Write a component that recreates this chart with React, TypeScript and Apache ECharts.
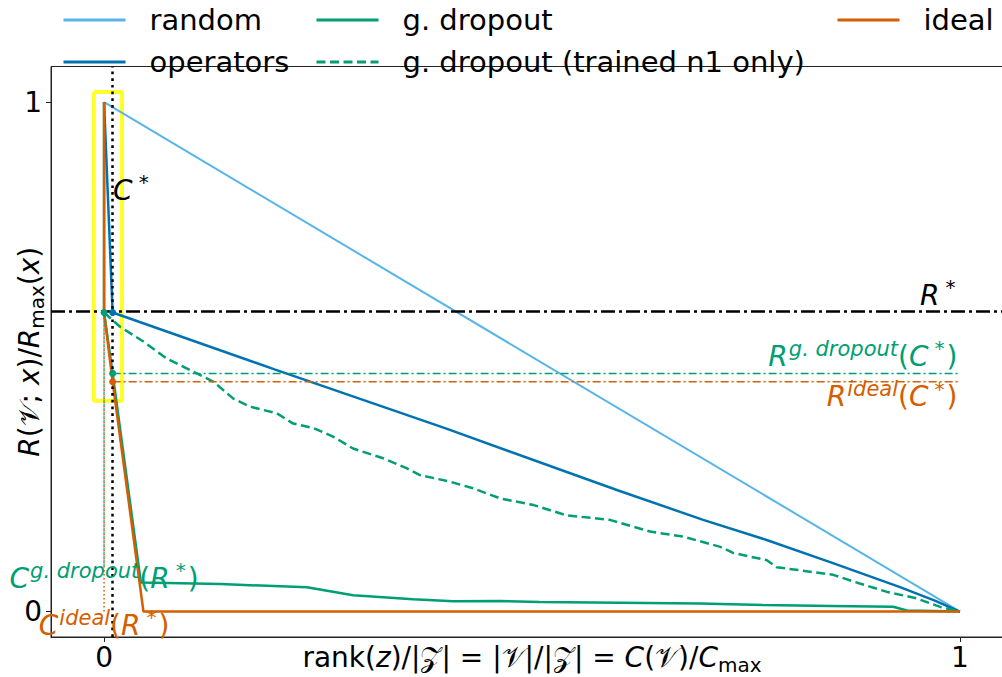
import React, { useEffect, useRef } from "react";
import * as echarts from "echarts";

// ---------- data ----------
const xTickValues = [0, 1];
const yTickValues = [0, 1];

const C_STAR = 0.01;
const R_STAR = 0.587;
const R_GD_AT_C = 0.4675;
const R_IDEAL_AT_C = 0.451;
const C_GD_AT_R = 0;
const C_IDEAL_AT_R = 0;

const randomX = [0, 1];
const randomY = [1, 0];

const operatorsX = [0, 0.01, 0.2, 0.4, 0.6, 0.7, 0.775, 0.85, 0.93, 0.97, 1];
const operatorsY = [1, 0.587, 0.475, 0.359, 0.238, 0.18, 0.14, 0.096, 0.048, 0.022, 0];

const gDropoutX = [0, 0, 0.01, 0.043, 0.136, 0.237, 0.291, 0.361, 0.408, 0.463, 0.509, 0.696, 0.77, 0.85, 0.922, 0.938, 1];
const gDropoutY = [1, 0.587, 0.4675, 0.057, 0.054, 0.0475, 0.032, 0.024, 0.02, 0.0206, 0.0186, 0.016, 0.0128, 0.011, 0.0094, 0.002, 0];

const gDropoutN1X = [0, 0.0187, 0.046, 0.073, 0.104, 0.128, 0.151, 0.171, 0.202, 0.221, 0.245, 0.268, 0.291, 0.326, 0.354, 0.369, 0.404, 0.431, 0.463, 0.502, 0.54, 0.591, 0.638, 0.677, 0.72, 0.735, 0.774, 0.786, 0.813, 0.852, 0.883, 0.914, 0.949, 0.977, 1];
const gDropoutN1Y = [0.587, 0.559, 0.53, 0.497, 0.471, 0.451, 0.418, 0.402, 0.389, 0.369, 0.36, 0.343, 0.32, 0.301, 0.281, 0.268, 0.255, 0.242, 0.222, 0.209, 0.189, 0.18, 0.157, 0.147, 0.127, 0.115, 0.101, 0.087, 0.081, 0.072, 0.055, 0.039, 0.026, 0.009, 0];

const idealX = [0, 0, 0.01, 0.046, 1];
const idealY = [1, 0.587, 0.451, 0.0, 0];

const zoomBoxX = [-0.012, 0.021, 0.021, -0.012, -0.012];
const zoomBoxY = [1.02, 1.02, 0.414, 0.414, 1.02];

const GD_DOTTED_LOW = 0.09;

// ---------- style ----------
const FONT = "DejaVu Sans";
const W = 1020;
const H = 677;
const C_RANDOM = "#56B4E9";
const C_OPS = "#0072B2";
const C_GD = "#009E73";
const C_IDEAL = "#D55E00";

const zip = (xs: number[], ys: number[]) => xs.map((x, i) => [x, ys[i]]);

const rich = (color: string, size = 28) => ({
  it: { fontStyle: "italic", fontSize: size, fontFamily: FONT, color, lineHeight: 36 },
  rm: { fontSize: size, fontFamily: FONT, color, lineHeight: 36 },
  cal: { fontSize: size, fontFamily: FONT, color, lineHeight: 36 },
  sup: { fontStyle: "italic", fontSize: 21, fontFamily: FONT, color, lineHeight: 21, verticalAlign: "top", padding: [0, 0, 0, 1] },
  star: { fontSize: 20, fontFamily: FONT, color, lineHeight: 20, verticalAlign: "top", padding: [0, 2, 0, 6] },
  sub: { fontSize: 20, fontFamily: FONT, color, lineHeight: 20, verticalAlign: "bottom" },
});

const annLabel = (text: string, color: string, position: string, distance = 0) => ({
  show: true,
  position,
  distance,
  color,
  opacity: 1,
  textBorderWidth: 0,
  formatter: text,
  rich: rich(color),
});

export default function App() {
  const ref = useRef<HTMLDivElement>(null);
  useEffect(() => {
    const chart = echarts.init(ref.current!, null, { renderer: "svg" });
    const axisLineStyle = { color: "#222", width: 1 };
    const legendBase = {
      orient: "vertical",
      top: 5,
      padding: 0,
      itemWidth: 62,
      itemHeight: 14,
      itemGap: 12,
      selectedMode: false,
      itemStyle: { opacity: 0 },
      lineStyle: { width: 3 },
      textStyle: { fontSize: 29, fontFamily: FONT, color: "#000", lineHeight: 30, padding: [0, 0, 0, 19] },
    };
    const option: any = {
      animation: false,
      backgroundColor: "#fff",
      grid: {
        left: 51,
        top: 66.5,
        right: W - 1013,
        bottom: 40,
        show: true,
        borderColor: "#222",
        borderWidth: 1,
        containLabel: false,
        outerBoundsMode: "none",
      },
      legend: [
        { ...legendBase, left: 62, data: ["random", "operators"] },
        { ...legendBase, left: 315, data: ["g. dropout", "g. dropout (trained n1 only)"] },
        { ...legendBase, left: 836, data: ["ideal"] },
      ],
      xAxis: {
        type: "value",
        min: -0.062,
        max: 1.062,
        axisLine: { show: true, onZero: false, lineStyle: axisLineStyle },
        axisTick: { show: true, customValues: xTickValues, length: 5, lineStyle: axisLineStyle },
        axisLabel: {
          customValues: xTickValues,
          fontSize: 28,
          fontFamily: FONT,
          color: "#000",
          margin: 6,
          formatter: (v: number) => String(v),
        },
        splitLine: { show: false },
        name:
          "{rm|rank(}{it|z}{rm|)/|}{cal|𝒵}{rm|| = |}{cal|𝒱}{rm||/|}{cal|𝒵}{rm|| = }{it|C}{rm|(}{cal|𝒱}{rm|)/}{it|C}{sub|max}",
        nameLocation: "middle",
        nameGap: 2,
        nameMoveOverlap: false,
        nameTextStyle: { rich: rich("#000"), verticalAlign: "top" },
      },
      yAxis: {
        type: "value",
        min: -0.05,
        max: 1.07,
        axisLine: { show: true, onZero: false, lineStyle: axisLineStyle },
        axisTick: { show: true, customValues: yTickValues, length: 5, lineStyle: axisLineStyle },
        axisLabel: {
          customValues: yTickValues,
          fontSize: 28,
          fontFamily: FONT,
          color: "#000",
          margin: 9,
          formatter: (v: number) => String(v),
        },
        splitLine: { show: false },
        name: "{it|R}{rm|(}{cal|𝒱}{rm|; }{it|x}{rm|)/}{it|R}{sub|max}{rm|(}{it|x}{rm|)}",
        nameLocation: "middle",
        nameRotate: 90,
        nameGap: 4,
        nameMoveOverlap: false,
        nameTextStyle: { rich: rich("#000"), verticalAlign: "bottom" },
      },
      series: [
        {
          type: "line",
          name: "zoom box",
          data: zip(zoomBoxX, zoomBoxY),
          symbol: "none",
          clip: false,
          silent: true,
          z: 1,
          lineStyle: { color: "rgba(255,255,0,0.85)", width: 4 },
        },
        {
          type: "line",
          name: "random",
          data: zip(randomX, randomY),
          symbol: "none",
          z: 2,
          lineStyle: { color: C_RANDOM, width: 2 },
          itemStyle: { color: C_RANDOM },
          markLine: {
            silent: true,
            symbol: ["none", "none"],
            label: { show: false },
            z: 5,
            data: [
              { yAxis: R_STAR, lineStyle: { color: "#000", width: 2.5, type: [14, 4, 3, 4] } },
              { xAxis: C_STAR, lineStyle: { color: "#000", width: 2.5, type: [2.7, 4] } },
            ],
          },
        },
        {
          type: "line",
          name: "operators",
          data: zip(operatorsX, operatorsY),
          symbol: "none",
          z: 3,
          lineStyle: { color: C_OPS, width: 2.5 },
          itemStyle: { color: C_OPS },
        },
        {
          type: "line",
          name: "g. dropout",
          data: zip(gDropoutX, gDropoutY),
          symbol: "none",
          z: 3,
          lineStyle: { color: C_GD, width: 2.5 },
          itemStyle: { color: C_GD },
        },
        {
          type: "line",
          name: "g. dropout (trained n1 only)",
          data: zip(gDropoutN1X, gDropoutN1Y),
          symbol: "none",
          z: 3,
          lineStyle: { color: C_GD, width: 2.5, type: [9, 4.5] },
          itemStyle: { color: C_GD },
        },
        {
          type: "line",
          name: "ideal",
          data: zip(idealX, idealY),
          symbol: "none",
          z: 4,
          lineStyle: { color: C_IDEAL, width: 2.5 },
          itemStyle: { color: C_IDEAL },
        },
        {
          type: "line",
          name: "R gd at C*",
          data: [[C_STAR, R_GD_AT_C], [1, R_GD_AT_C]],
          symbol: "none",
          silent: true,
          z: 5,
          lineStyle: { color: C_GD, width: 1.5, type: [8, 3, 2, 3] },
        },
        {
          type: "line",
          name: "R ideal at C*",
          data: [[C_STAR, R_IDEAL_AT_C], [1, R_IDEAL_AT_C]],
          symbol: "none",
          silent: true,
          z: 5,
          lineStyle: { color: C_IDEAL, width: 1.5, type: [8, 3, 2, 3] },
        },
        {
          type: "line",
          name: "C ideal at R*",
          data: [[C_IDEAL_AT_R, 0], [C_IDEAL_AT_R, R_STAR]],
          symbol: "none",
          silent: true,
          z: 5,
          lineStyle: { color: C_IDEAL, width: 1.5, type: [1.5, 2.5] },
        },
        {
          type: "line",
          name: "C gd at R*",
          data: [[C_GD_AT_R, GD_DOTTED_LOW], [C_GD_AT_R, R_STAR]],
          symbol: "none",
          silent: true,
          z: 5,
          lineStyle: { color: C_GD, width: 1.5, type: [1.5, 2.5] },
        },
        {
          type: "scatter",
          name: "markers",
          symbolSize: 7,
          silent: true,
          z: 6,
          itemStyle: { opacity: 1 },
          data: [
            { value: [C_GD_AT_R, R_STAR], itemStyle: { color: C_GD } },
            { value: [C_STAR, R_STAR], itemStyle: { color: C_OPS } },
            { value: [C_STAR, R_GD_AT_C], itemStyle: { color: C_GD } },
            { value: [C_STAR, R_IDEAL_AT_C], itemStyle: { color: C_IDEAL } },
          ],
        },
        {
          type: "scatter",
          name: "annotations",
          symbolSize: 1,
          silent: true,
          clip: false,
          z: 7,
          itemStyle: { color: "rgba(0,0,0,0)", opacity: 1 },
          data: [
            { value: [C_STAR, 0.827], label: annLabel("{it|C}{star|*}", "#000", "right", 0) },
            { value: [1, 0.621], label: annLabel("{it|R}{star|*}", "#000", "left", 2) },
            {
              value: [1, 0.5015],
              label: annLabel("{it|R}{sup|g. dropout}{rm|(}{it|C}{star|*}{rm|)}", C_GD, "left", 2),
            },
            {
              value: [1, 0.422],
              label: annLabel("{it|R}{sup|ideal}{rm|(}{it|C}{star|*}{rm|)}", C_IDEAL, "left", 2),
            },
            {
              value: [C_GD_AT_R, 0.0658],
              label: annLabel("{it|C}{sup|g. dropout}{rm|(}{it|R}{star|*}{rm|)}", C_GD, "inside", 0),
            },
            {
              value: [C_IDEAL_AT_R, -0.0265],
              label: annLabel("{it|C}{sup|ideal}{rm|(}{it|R}{star|*}{rm|)}", C_IDEAL, "inside", 0),
            },
          ],
        },
      ],
    };
    chart.setOption(option);
    return () => chart.dispose();
  }, []);
  return (
    <div
      style={{
        position: "fixed",
        left: 0,
        top: 0,
        width: 1002,
        height: 677,
        overflow: "hidden",
        background: "#fff",
      }}
    >
      <div ref={ref} style={{ width: W, height: H }} />
    </div>
  );
}
